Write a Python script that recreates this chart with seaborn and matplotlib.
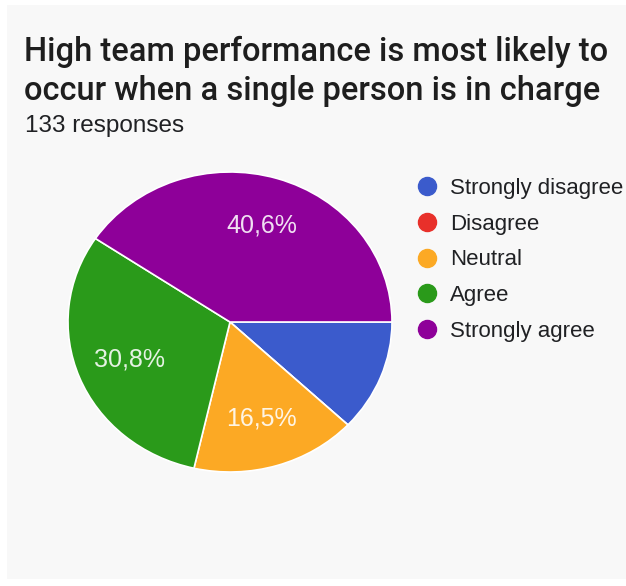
import matplotlib
matplotlib.use("Agg")
import matplotlib.pyplot as plt
from matplotlib.lines import Line2D
from matplotlib.patches import Rectangle
import seaborn as sns

# survey data (133 responses)
title = "High team performance is most likely to\noccur when a single person is in charge"
subtitle = "133 responses"
answers = ["Strongly disagree", "Disagree", "Neutral", "Agree", "Strongly agree"]
counts = [16, 0, 22, 41, 54]
colors = ["#3b5bcc", "#e8302a", "#fca924", "#2a9a1a", "#8e0099"]

sns.set_theme(style="white")
plt.rcParams["font.family"] = ["Liberation Sans", "DejaVu Sans"]
pal = sns.color_palette(colors)

fig = plt.figure(figsize=(6.26, 5.86), dpi=100)
fig.patch.set_facecolor("white")
# light grey card behind everything
fig.patches.append(Rectangle((7 / 626, 7 / 586), 1, 1 - 12 / 586,
                             transform=fig.transFigure, facecolor="#f8f8f8",
                             edgecolor="none", zorder=-5))

fig.text(24 / 626, 1 - 36 / 586, title, fontsize=23.5, color="#1e1e1e",
         va="top", ha="left", linespacing=1.28,
         family=["Roboto", "DejaVu Sans"], fontweight="medium")
fig.text(25 / 626, 1 - 132 / 586, subtitle, fontsize=17.5, color="#202124",
         va="baseline", ha="left")

# pie is slightly wider than tall in the reference
cx, cy, rx, ry = 230, 322, 162, 150
ax = fig.add_axes([(cx - rx) / 626, 1 - (cy + ry) / 586, 2 * rx / 626, 2 * ry / 586])
ax.set_facecolor("none")


def fmt(p):
    if p < 15:
        return ""
    return f"{p:.1f}%".replace(".", ",")


wedges, _, autotexts = ax.pie(counts, colors=pal, startangle=0, counterclock=False,
                              autopct=fmt, pctdistance=0.67,
                              wedgeprops=dict(edgecolor="white", linewidth=1.2),
                              textprops=dict(color="white", fontsize=18))
for t in autotexts:
    t.set_alpha(0.88)
ax.set_aspect("auto")
ax.set_xlim(-1, 1)
ax.set_ylim(-1, 1)
ax.axis("off")

handles = [Line2D([0], [0], marker="o", linestyle="", markersize=13,
                  markerfacecolor=c, markeredgecolor=c) for c in pal]
fig.legend(handles, answers, loc="upper left",
           bbox_to_anchor=(416 / 626, 1 - 178 / 586), frameon=False,
           fontsize=16, handlelength=1.0, handletextpad=0.55,
           labelspacing=0.66, borderaxespad=0, borderpad=0,
           labelcolor="#202124")

fig.savefig("out.png", dpi=100)
